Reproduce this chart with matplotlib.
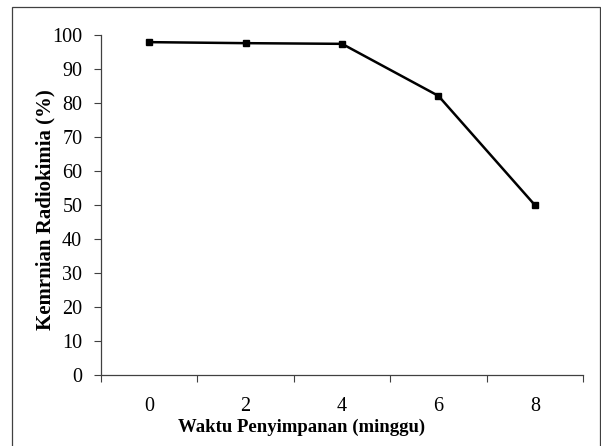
import matplotlib
matplotlib.use("Agg")
import matplotlib.pyplot as plt
from matplotlib.patches import Rectangle
from matplotlib.ticker import FixedLocator, NullFormatter

categories = ["0", "2", "4", "6", "8"]
values = [97.9, 97.6, 97.4, 82.1, 50.0]
y_ticks = [0, 10, 20, 30, 40, 50, 60, 70, 80, 90, 100]

plt.rcParams["font.family"] = ["Liberation Serif", "DejaVu Serif"]

fig = plt.figure(figsize=(6.01, 4.46), dpi=100)
ax = fig.add_axes([101/601, 1-375/446, (583-101)/601, (375-35)/446])

x = list(range(len(categories)))
ax.plot(x, values, color="black", lw=1.8, marker="s", markersize=5, markerfacecolor="black")

ax.set_xlim(-0.5, len(categories)-0.5)
ax.set_ylim(0, 100)
ax.set_yticks(y_ticks)
ax.set_yticklabels([str(t) for t in y_ticks], fontsize=14.5)

ax.xaxis.set_major_locator(FixedLocator([i-0.5 for i in range(len(categories)+1)]))
ax.xaxis.set_major_formatter(NullFormatter())
ax.xaxis.set_minor_locator(FixedLocator(x))
ax.set_xticks(x, minor=True)
ax.set_xticklabels(categories, minor=True, fontsize=14.5)
ax.tick_params(axis="x", which="minor", length=0, pad=16)
ax.tick_params(axis="x", which="major", length=5, width=0.8, color="#404040", direction="out")
ax.tick_params(axis="y", length=5, width=0.8, color="#404040", direction="out", pad=8.5)

for s in ["top", "right"]:
    ax.spines[s].set_visible(False)
for s in ["left", "bottom"]:
    ax.spines[s].set_color("#404040")
    ax.spines[s].set_linewidth(0.9)

ax.set_xlabel("Waktu Penyimpanan (minggu)", fontsize=13.5, fontweight="bold", va="center")
ax.xaxis.set_label_coords((302-101)/482, (375-427)/340)
ax.set_ylabel("Kemrnian Radiokimia (%)", fontsize=15, fontweight="bold", va="center")
ax.yaxis.set_label_coords((45-101)/482, (375-210)/340)

fig.patches.append(Rectangle((11.5/601, -0.02), (599.5-11.5)/601, 1.02-6.5/446,
                             transform=fig.transFigure, fill=False,
                             edgecolor="#404040", lw=0.9))

fig.savefig("out.png", dpi=100)
